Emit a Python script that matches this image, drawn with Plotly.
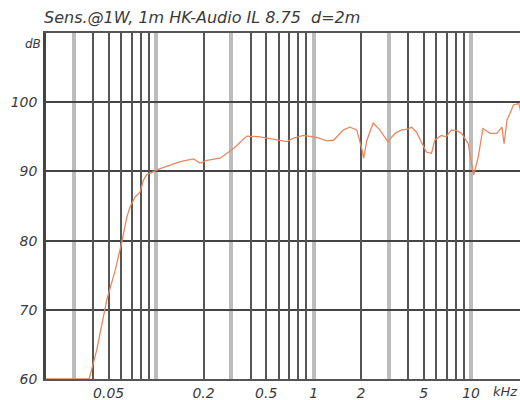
import math
import plotly.graph_objects as go

# Frequency response (kHz, dB)
freq_khz = [0.02, 0.0376, 0.042, 0.0486, 0.055, 0.0606, 0.0652, 0.0684, 0.0736, 0.079,
            0.081, 0.083, 0.087, 0.094, 0.106, 0.123, 0.142, 0.173, 0.19, 0.21,
            0.255, 0.31, 0.377, 0.458, 0.556, 0.676, 0.745, 0.86, 1.05, 1.21,
            1.34, 1.55, 1.7, 1.88, 2.03, 2.08, 2.18, 2.39, 2.63, 2.96,
            3.29, 3.62, 3.98, 4.18, 4.49, 4.83, 5.2, 5.6, 5.88, 6.46,
            6.94, 7.5, 8.1, 8.7, 9.6, 10.07, 10.4, 11.1, 11.9, 13.2,
            14.6, 15.7, 16.2, 16.9, 17.7, 18.6, 20.1, 20.6]
spl_db = [60, 60, 64.2, 71.4, 75.7, 79.8, 83.4, 84.9, 86.3, 87.0,
          87.8, 88.7, 89.5, 89.9, 90.4, 90.9, 91.4, 91.8, 91.2, 91.6,
          91.9, 93.3, 95.1, 95.0, 94.6, 94.3, 94.8, 95.2, 94.9, 94.4,
          94.5, 96.0, 96.4, 96.0, 93.1, 91.9, 94.5, 97.0, 96.0, 94.3,
          95.5, 96.0, 96.1, 96.4, 95.7, 94.3, 92.8, 92.6, 94.5, 95.2,
          95.0, 96.0, 95.9, 95.5, 94.0, 91.1, 89.5, 92.1, 96.2, 95.5,
          95.5, 96.4, 94.0, 97.4, 98.4, 99.6, 99.8, 98.8]

x_label_vals = [0.05, 0.2, 0.5, 1, 2, 5, 10]
x_label_text = ["0.05", "0.2", "0.5", "1", "2", "5", "10"]
x_grid_light = [0.03, 0.1, 0.3, 1, 3, 10]
x_grid_dark = [0.04, 0.05, 0.06, 0.07, 0.08, 0.09,
               0.2, 0.4, 0.5, 0.6, 0.7, 0.8, 0.9,
               2, 4, 5, 6, 7, 8, 9]
y_tick_vals = [60, 70, 80, 90, 100]
y_tick_text = ["60", "70", "80", "90", "100"]

title_text = "Sens.@1W, 1m HK-Audio IL 8.75  d=2m"

x_range = [math.log10(0.02), math.log10(0.02) + 474 / 157.5]
FONT = "DejaVu Sans"
TXT = "#3a3a3a"

fig = go.Figure()
fig.add_trace(go.Scatter(x=freq_khz, y=spl_db, mode="lines",
                         line=dict(color="#e38a60", width=1.3),
                         hoverinfo="skip", showlegend=False))
fig.add_trace(go.Scatter(x=[], y=[], xaxis="x2", yaxis="y",
                         mode="lines", showlegend=False, hoverinfo="skip"))

fig.update_layout(
    width=520, height=400,
    margin=dict(l=46, r=0, t=33, b=21),
    paper_bgcolor="white", plot_bgcolor="white",
    showlegend=False,
    xaxis=dict(
        type="log", range=x_range,
        tickmode="array", tickvals=x_label_vals, ticktext=x_label_text,
        showgrid=False, zeroline=False, ticks="",
        showline=True, mirror=True, linecolor="#555555", linewidth=1.5,
        tickfont=dict(family=FONT, size=14, color=TXT, style="italic"),
        minor=dict(tickmode="array", tickvals=x_grid_light, showgrid=True,
                   gridcolor="#bcbcbc", gridwidth=3.5, ticks=""),
    ),
    xaxis2=dict(
        type="log", range=x_range, overlaying="x", anchor="y",
        tickmode="array", tickvals=x_grid_dark, showticklabels=False,
        showgrid=True, gridcolor="#555555", gridwidth=1.5,
        zeroline=False, ticks="", showline=False,
    ),
    yaxis=dict(
        range=[60, 110], tickmode="array", tickvals=y_tick_vals, ticktext=y_tick_text,
        showgrid=True, gridcolor="#444444", gridwidth=1.5, zeroline=False,
        ticks="", showline=True, linecolor="#444444", linewidth=2.5,
        ticklabelstandoff=3,
        tickfont=dict(family=FONT, size=14, color=TXT, style="italic"),
    ),
    annotations=[
        dict(text=title_text, xref="paper", yref="paper", x=-0.0084, y=1.046,
             xanchor="left", yanchor="middle", showarrow=False,
             font=dict(family=FONT, size=16, color=TXT, style="italic")),
        dict(text="dB", xref="paper", yref="paper", x=-0.006, y=0.968,
             xanchor="right", yanchor="middle", showarrow=False,
             font=dict(family=FONT, size=12, color=TXT, style="italic")),
        dict(text="kHz", xref="paper", yref="paper", x=1.0, y=-0.035,
             xanchor="right", yanchor="middle", showarrow=False,
             font=dict(family=FONT, size=13, color=TXT, style="italic")),
    ],
)

fig.write_html("out.html",
               config={"displayModeBar": False},
               post_script="document.body.style.margin='0';document.body.style.overflow='hidden';")
